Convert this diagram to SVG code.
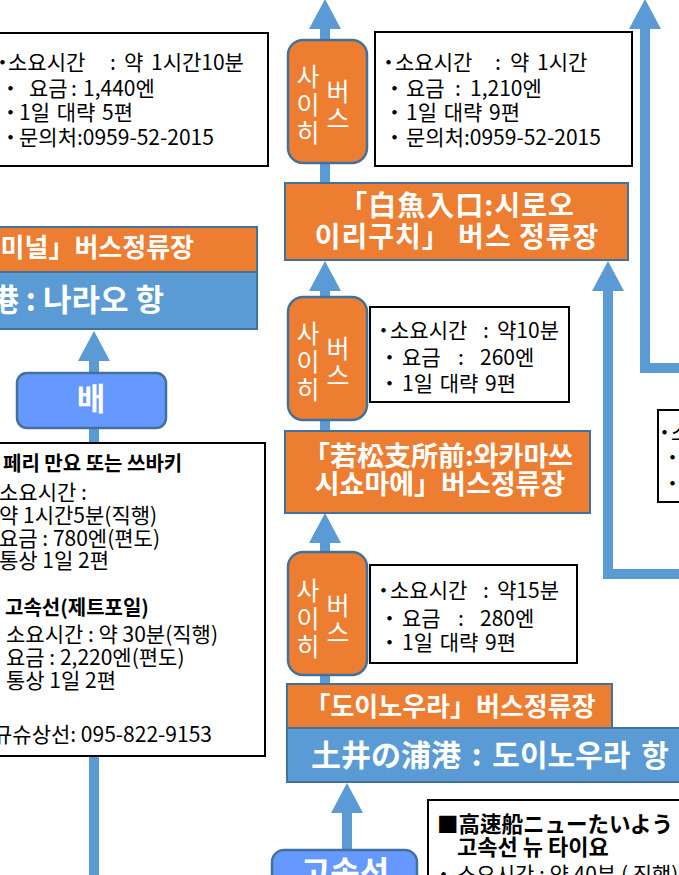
<svg xmlns="http://www.w3.org/2000/svg" width="679" height="875" viewBox="0 0 679 875" xml:space="preserve">
<style>
text{font-family:"Noto Sans CJK KR","Noto Sans",sans-serif;font-size:21px;fill:#000}
.b{font-weight:bold}
.w{fill:#fff;font-weight:bold}
.bw{fill:#fff;font-size:25px}
.box{fill:#fff;stroke:#000;stroke-width:2}
.org{fill:#ED7D31;stroke:#41719C;stroke-width:2}
.blu{fill:#5B9BD5;stroke:#41719C;stroke-width:2}
.lb{fill:#6699FF;stroke:#41719C;stroke-width:2.5}
.bus{fill:#ED7D31;stroke:#41719C;stroke-width:2.5}
.conn{fill:none;stroke:#5B9BD5;stroke-width:10;stroke-linejoin:miter}
</style>
<defs>
<marker id="ah" markerUnits="userSpaceOnUse" markerWidth="30" markerHeight="32" viewBox="0 0 30 32" refX="0" refY="16" orient="auto"><path d="M0,0 L30,16 L0,32 z" fill="#5B9BD5"/></marker>
</defs>

<g id="connectors">
<path class="conn" d="M94,443 L94,361" marker-end="url(#ah)"/>
<path class="conn" d="M94,756 L94,880"/>
<path class="conn" d="M325,183 L325,29" marker-end="url(#ah)"/>
<path class="conn" d="M325,431 L325,291" marker-end="url(#ah)"/>
<path class="conn" d="M325,684 L325,543" marker-end="url(#ah)"/>
<path class="conn" d="M347,850 L347,813" marker-end="url(#ah)"/>
<path class="conn" d="M690,574 L608,574 L608,291" marker-end="url(#ah)"/>
<path class="conn" d="M690,368 L645,368 L645,29" marker-end="url(#ah)"/>
</g>

<g id="info-top-left">
<rect class="box" x="-5" y="33" width="273" height="133"/>
<text y="70"><tspan x="-8">・</tspan><tspan x="8">소요시간</tspan><tspan x="110">:</tspan><tspan x="124">약</tspan><tspan x="151">1시간10분</tspan></text>
<text y="96"><tspan x="0">・</tspan><tspan x="29">요금</tspan><tspan x="71">:</tspan><tspan x="83">1,440엔</tspan></text>
<text y="120"><tspan x="0">・</tspan><tspan x="19" word-spacing="2">1일 대략 5편</tspan></text>
<text y="145"><tspan x="0">・</tspan><tspan x="19">문의처:0959-52-2015</tspan></text>
</g>

<g id="bus-1">
<rect class="bus" x="288" y="40" width="79" height="123" rx="15"/>
<text class="bw" text-anchor="middle"><tspan x="308" y="86">사</tspan><tspan x="308" y="114">이</tspan><tspan x="308" y="142">히</tspan><tspan x="338" y="101">버</tspan><tspan x="338" y="128">스</tspan></text>
</g>

<g id="info-2">
<rect class="box" x="375" y="32" width="257" height="134"/>
<text y="70"><tspan x="378">・</tspan><tspan x="395">소요시간</tspan><tspan x="495">:</tspan><tspan x="510">약</tspan><tspan x="537">1시간</tspan></text>
<text y="96"><tspan x="384">・</tspan><tspan x="406">요금</tspan><tspan x="455">:</tspan><tspan x="470">1,210엔</tspan></text>
<text y="120"><tspan x="384">・</tspan><tspan x="406" word-spacing="2">1일 대략 9편</tspan></text>
<text y="145"><tspan x="384">・</tspan><tspan x="406">문의처:0959-52-2015</tspan></text>
</g>

<g id="stop-shirouo">
<rect class="org" x="285" y="183" width="343" height="77"/>
<text class="w" text-anchor="middle" style="font-size:28px;letter-spacing:1px"><tspan x="457" y="216">「白魚入口:시로오</tspan><tspan x="457" y="247">이리구치」 버스 정류장</tspan></text>
</g>

<g id="bus-2">
<rect class="bus" x="288" y="297" width="79" height="123" rx="15"/>
<text class="bw" text-anchor="middle"><tspan x="308" y="343">사</tspan><tspan x="308" y="371">이</tspan><tspan x="308" y="399">히</tspan><tspan x="338" y="358">버</tspan><tspan x="338" y="385">스</tspan></text>
</g>

<g id="info-3">
<rect class="box" x="370" y="307" width="199" height="95"/>
<text y="338"><tspan x="373">・</tspan><tspan x="390">소요시간</tspan><tspan x="483">:</tspan><tspan x="497">약10분</tspan></text>
<text y="365"><tspan x="379">・</tspan><tspan x="402">요금</tspan><tspan x="458">:</tspan><tspan x="480">260엔</tspan></text>
<text y="391"><tspan x="379">・</tspan><tspan x="402" word-spacing="2">1일 대략 9편</tspan></text>
</g>

<g id="stop-wakamatsu">
<rect class="org" x="285" y="431" width="305" height="82"/>
<text class="w" text-anchor="middle" style="font-size:27px"><tspan x="438" y="466">「若松支所前:와카마쓰</tspan><tspan x="440" y="494">시쇼마에」버스정류장</tspan></text>
</g>

<g id="bus-3">
<rect class="bus" x="288" y="552" width="79" height="123" rx="15"/>
<text class="bw" text-anchor="middle"><tspan x="308" y="600">사</tspan><tspan x="308" y="628">이</tspan><tspan x="308" y="656">히</tspan><tspan x="338" y="615">버</tspan><tspan x="338" y="642">스</tspan></text>
</g>

<g id="info-4">
<rect class="box" x="370" y="565" width="207" height="98"/>
<text y="598"><tspan x="373">・</tspan><tspan x="390">소요시간</tspan><tspan x="483">:</tspan><tspan x="497">약15분</tspan></text>
<text y="626"><tspan x="379">・</tspan><tspan x="402">요금</tspan><tspan x="458">:</tspan><tspan x="480">280엔</tspan></text>
<text y="650"><tspan x="379">・</tspan><tspan x="402" word-spacing="2">1일 대략 9편</tspan></text>
</g>

<g id="info-right">
<rect class="box" x="658" y="410" width="40" height="92"/>
<text y="440"><tspan x="654">・</tspan><tspan x="671">소요시간</tspan></text>
<text y="465"><tspan x="662">・</tspan></text>
<text y="491"><tspan x="662">・</tspan></text>
</g>

<g id="stop-doinoura">
<rect class="org" x="287" y="684" width="325" height="44"/>
<text class="w" x="450" y="716" text-anchor="middle" style="font-size:26px">「도이노우라」버스정류장</text>
</g>

<g id="port-doinoura">
<rect class="blu" x="287" y="728" width="400" height="54"/>
<text class="w" x="311" y="766" style="font-size:30px;word-spacing:4px">土井の浦港 : 도이노우라 항</text>
</g>

<g id="stop-naraoterminal">
<rect class="org" x="-5" y="227" width="262" height="45"/>
<text class="w" x="194" y="257" text-anchor="end" style="font-size:26px">「나라오 터미널」버스정류장</text>
</g>

<g id="port-narao">
<rect class="blu" x="-5" y="272" width="262" height="57"/>
<text class="w" x="164" y="311" text-anchor="end" style="font-size:31px">奈良尾港 : 나라오 항</text>
</g>

<g id="ship">
<rect class="lb" x="17" y="373" width="149" height="55" rx="10"/>
<text class="w" x="91" y="410" text-anchor="middle" style="font-size:31px">배</text>
</g>

<g id="info-ferry">
<rect class="box" x="-5" y="443" width="270" height="313"/>
<text class="b" x="3" y="471" style="font-size:20px">페리 만요 또는 쓰바키</text>
<text x="-1" y="500">소요시간 :</text>
<text x="-1" y="523">약 1시간5분(직행)</text>
<text x="-1" y="546">요금 : 780엔(편도)</text>
<text x="-1" y="568">통상 1일 2편</text>
<text class="b" x="5" y="615" style="font-size:20px">고속선(제트포일)</text>
<text x="6" y="642">소요시간 : 약 30분(직행)</text>
<text x="6" y="665">요금 : 2,220엔(편도)</text>
<text x="6" y="688">통상 1일 2편</text>
<text x="212" y="742" text-anchor="end">규슈상선: 095-822-9153</text>
</g>

<g id="highspeed">
<rect class="lb" x="272" y="850" width="145" height="60" rx="12"/>
<text class="w" x="345" y="884" text-anchor="middle" style="font-size:32px">고속선</text>
</g>

<g id="info-newtaiyo">
<rect class="box" x="428" y="800" width="260" height="100"/>
<text class="b" x="437" y="832" style="font-size:21.5px">■高速船ニューたいよう</text>
<text class="b" x="457" y="855" style="font-size:22px">고속선 뉴 타이요</text>
<text y="882"><tspan x="433">・</tspan><tspan x="457">소요시간 : 약 40분 ( 직행)</tspan></text>
</g>
</svg>
